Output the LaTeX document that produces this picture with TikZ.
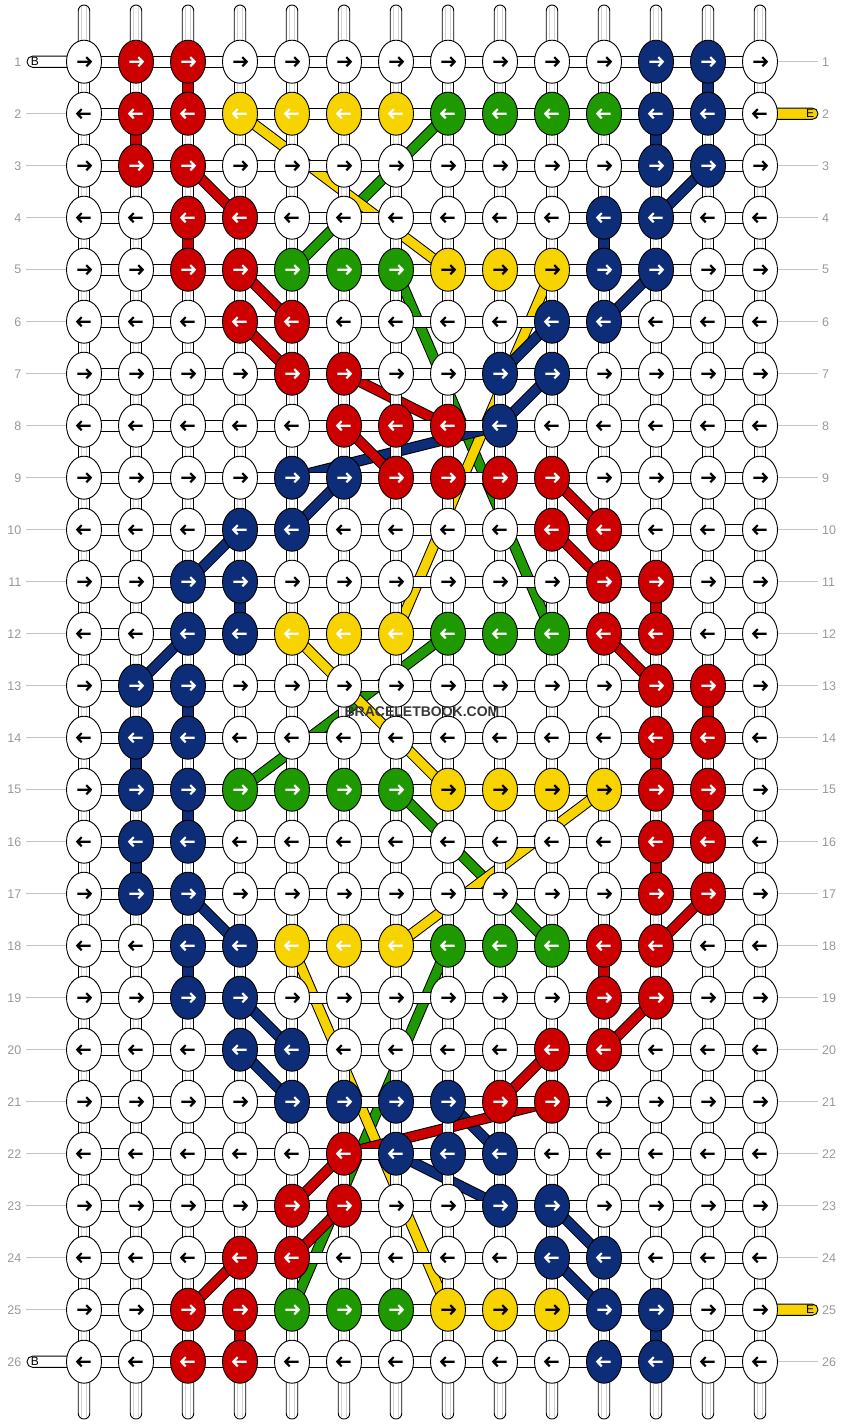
\documentclass[tikz,border=0pt]{standalone}
\usepackage{fontspec}
\setmainfont{Liberation Sans}
\usetikzlibrary{shapes.geometric}
\definecolor{cR}{HTML}{CC0000}
\definecolor{cY}{HTML}{F7D300}
\definecolor{cy}{HTML}{F7D300}
\definecolor{cG}{HTML}{1E9A00}
\definecolor{cB}{HTML}{0E2D78}
\definecolor{cW}{HTML}{FFFFFF}
\definecolor{gLine}{HTML}{C4C4C4}
\definecolor{thr}{HTML}{D2D2D2}
\definecolor{labC}{HTML}{999999}
\def\acW{black}\def\acR{white}\def\acG{white}\def\acB{white}\def\acY{white}\def\acy{black}
\tikzset{
  knot/.style={ellipse, draw=black, line width=0.9pt, minimum width=35pt, minimum height=43pt, inner sep=0pt},
  hconn/.style={draw=black, fill=white, line width=0.9pt},
  vconn/.style={draw=black, line width=0.9pt},
  thread/.style={thr, line width=1pt},
  arr/.style={line width=2.2pt, line join=miter},
  lab/.style={text=labC, font=\fontsize{12.5}{12.5}\selectfont, inner sep=0pt},
  guide/.style={gLine, line width=1pt},
  tab/.style={draw=black, line width=0.9pt, rounded corners=5.5pt},
}
\newcommand\strandseg[3]{%
  \draw[black, line width=11pt] (p#2) -- (p#3);
  \draw[#1, line width=9pt] (p#2) -- (p#3);}
\begin{document}
\begin{tikzpicture}[x=1pt,y=-1pt]
\fill[white] (0,0) rectangle (844,1424);
\useasboundingbox (0,0) rectangle (844,1424);
% grid coordinates
\foreach \r in {1,...,26}{\foreach \c in {1,...,14}{
  \coordinate (p\r-\c) at ({84+52*(\c-1)},{61.7+52*(\r-1)});}}
% guide lines at the row ends
\foreach \r in {2,...,25}{\draw[guide] (26,{61.7+52*(\r-1)}) -- (70,{61.7+52*(\r-1)});}
\foreach \r in {1,3,4,...,24,26}{\draw[guide] (774,{61.7+52*(\r-1)}) -- (818,{61.7+52*(\r-1)});}
% tabs
\foreach \r in {1,26}{
  \draw[tab, fill=white] (27,{61.7+52*(\r-1)-5.6}) rectangle (78,{61.7+52*(\r-1)+5.6});
  \node[inner sep=0pt, font=\fontsize{12}{12}\selectfont] at (35,{61.7+52*(\r-1)}) {B};}
\foreach \r in {2,25}{
  \draw[tab, fill=cY] (768,{61.7+52*(\r-1)-5.6}) rectangle (818,{61.7+52*(\r-1)+5.6});
  \node[inner sep=0pt, font=\fontsize{12}{12}\selectfont] at (810,{61.7+52*(\r-1)}) {E};}
% top and bottom strands
\foreach \c in {1,...,14}{
  \pgfmathsetmacro\xx{84+52*(\c-1)}
  \draw[vconn, fill=white, rounded corners=5.75pt] ({\xx-5.75},5) rectangle ({\xx+5.75},56);
  \draw[thread] ({\xx-2.2},7) -- ({\xx-2.2},50) ({\xx+2.2},7) -- ({\xx+2.2},50);
  \draw[vconn, fill=white, rounded corners=5.75pt] ({\xx-5.75},1367) rectangle ({\xx+5.75},1419);
  \draw[thread] ({\xx-2.2},1373) -- ({\xx-2.2},1417) ({\xx+2.2},1373) -- ({\xx+2.2},1417);
}
% moving strings
\strandseg{cG}{2-8}{5-5}
\strandseg{cG}{5-7}{12-10}
\strandseg{cG}{12-8}{15-4}
\strandseg{cG}{15-7}{18-10}
\strandseg{cG}{18-8}{25-5}
\strandseg{cY}{2-4}{5-8}
\strandseg{cY}{5-10}{12-7}
\strandseg{cY}{12-5}{15-8}
\strandseg{cY}{15-11}{18-7}
\strandseg{cY}{18-5}{25-8}
\foreach \a/\b in {3-13/4-12,5-12/6-11,6-10/7-9,7-10/8-9,8-9/9-5,9-6/10-5,10-4/11-3,12-3/13-2,17-3/18-4,19-4/20-5,20-4/21-5,21-8/22-9,22-7/23-9,23-10/24-11,24-10/25-11}{\strandseg{cB}{\a}{\b}}
\foreach \a/\b in {3-3/4-4,5-4/6-5,6-4/7-5,7-6/8-8,8-6/9-7,9-10/10-11,10-10/11-11,12-11/13-12,17-13/18-12,19-12/20-11,20-10/21-9,21-10/22-6,22-6/23-5,23-6/24-5,24-4/25-3}{\strandseg{cR}{\a}{\b}}
% vertical connectors
\foreach \r in {1,...,25}{\foreach \c in {1,...,14}{
  \pgfmathsetmacro\xx{84+52*(\c-1)}
  \pgfmathsetmacro\yy{61.7+52*(\r-1)}
  \draw[vconn, fill=white] ({\xx-5.75},{\yy+12}) rectangle ({\xx+5.75},{\yy+40});
  \draw[thread] ({\xx-2.2},{\yy+12}) -- ({\xx-2.2},{\yy+40}) ({\xx+2.2},{\yy+12}) -- ({\xx+2.2},{\yy+40});
}}
\foreach \r/\c/\col in {1/3/cR,2/2/cR,4/3/cR,11/12/cR,13/13/cR,14/12/cR,15/13/cR,16/12/cR,18/11/cR,25/4/cR,
  1/13/cB,2/12/cB,4/11/cB,11/4/cB,13/3/cB,14/2/cB,15/3/cB,16/2/cB,18/3/cB,25/12/cB}{
  \pgfmathsetmacro\xx{84+52*(\c-1)}
  \pgfmathsetmacro\yy{61.7+52*(\r-1)}
  \draw[vconn, fill=\col] ({\xx-5.75},{\yy+12}) rectangle ({\xx+5.75},{\yy+40});
}
% horizontal connectors
\foreach \r in {1,...,26}{\foreach \c in {1,...,13}{
  \pgfmathsetmacro\xx{84+52*(\c-1)}
  \pgfmathsetmacro\yy{61.7+52*(\r-1)}
  \draw[hconn] ({\xx+12},{\yy-5.6}) rectangle ({\xx+40},{\yy+5.6});
}}
% knots
\foreach \r/\row in {
1/{W,R,R,W,W,W,W,W,W,W,W,B,B,W},
2/{W,R,R,Y,Y,Y,Y,G,G,G,G,B,B,W},
3/{W,R,R,W,W,W,W,W,W,W,W,B,B,W},
4/{W,W,R,R,W,W,W,W,W,W,B,B,W,W},
5/{W,W,R,R,G,G,G,y,y,y,B,B,W,W},
6/{W,W,W,R,R,W,W,W,W,B,B,W,W,W},
7/{W,W,W,W,R,R,W,W,B,B,W,W,W,W},
8/{W,W,W,W,W,R,R,R,B,W,W,W,W,W},
9/{W,W,W,W,B,B,R,R,R,R,W,W,W,W},
10/{W,W,W,B,B,W,W,W,W,R,R,W,W,W},
11/{W,W,B,B,W,W,W,W,W,W,R,R,W,W},
12/{W,W,B,B,Y,Y,Y,G,G,G,R,R,W,W},
13/{W,B,B,W,W,W,W,W,W,W,W,R,R,W},
14/{W,B,B,W,W,W,W,W,W,W,W,R,R,W},
15/{W,B,B,G,G,G,G,y,y,y,y,R,R,W},
16/{W,B,B,W,W,W,W,W,W,W,W,R,R,W},
17/{W,B,B,W,W,W,W,W,W,W,W,R,R,W},
18/{W,W,B,B,Y,Y,Y,G,G,G,R,R,W,W},
19/{W,W,B,B,W,W,W,W,W,W,R,R,W,W},
20/{W,W,W,B,B,W,W,W,W,R,R,W,W,W},
21/{W,W,W,W,B,B,B,B,R,R,W,W,W,W},
22/{W,W,W,W,W,R,B,B,B,W,W,W,W,W},
23/{W,W,W,W,R,R,W,W,B,B,W,W,W,W},
24/{W,W,W,R,R,W,W,W,W,B,B,W,W,W},
25/{W,W,R,R,G,G,G,y,y,y,B,B,W,W},
26/{W,W,R,R,W,W,W,W,W,W,B,B,W,W}}{
  \pgfmathtruncatemacro\dir{mod(\r,2)==1 ? 1 : -1}
  \foreach \k [count=\c] in \row {
    \edef\ac{\csname ac\k\endcsname}
    \node[knot, fill=c\k] (k\r-\c) at (p\r-\c) {};
    \draw[arr, draw=\ac, shift={(p\r-\c)}, xscale=\dir] (-6.7,0) -- (6.7,0) (2.3,-4.6) -- (6.7,0) -- (2.3,4.6);
  }
}
% row labels
\foreach \r in {1,...,26}{
  \node[lab, anchor=east] (ll\r) at (21.5,{61.7+52*(\r-1)}) {\r};
  \node[lab, anchor=west] (rl\r) at (822,{61.7+52*(\r-1)}) {\r};
}
% watermark
\node[inner sep=0pt, text=black!78, font=\bfseries\fontsize{14}{14}\selectfont] (wm) at (422,711.7) {BRACELETBOOK.COM};
\end{tikzpicture}
\end{document}
